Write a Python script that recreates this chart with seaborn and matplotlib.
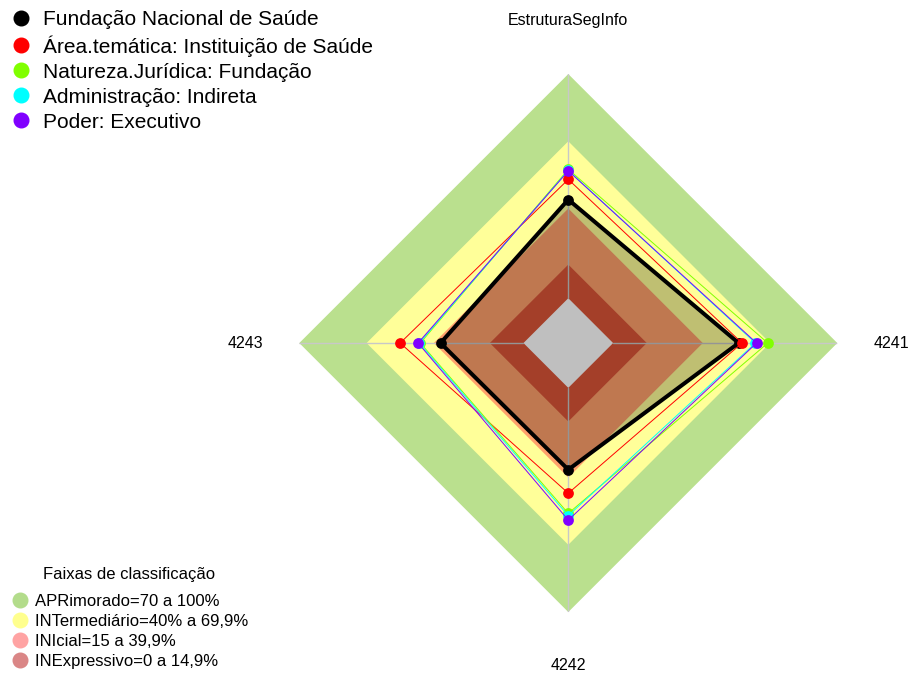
import numpy as np
import pandas as pd
import seaborn as sns
import matplotlib.pyplot as plt
from matplotlib.lines import Line2D

sns.set_theme(style="white")
plt.rcParams['font.family'] = ['Liberation Sans', 'DejaVu Sans']
plt.rcParams['text.color'] = 'black'

# === dados ===
eixos = ["EstruturaSegInfo", "4241", "4242", "4243"]
series = ["Fundação Nacional de Saúde",
          "Área.temática: Instituição de Saúde",
          "Natureza.Jurídica: Fundação",
          "Administração: Indireta",
          "Poder: Executivo"]
cores = ["#000000", "#FF0000", "#80FF00", "#00FFFF", "#8000FF"]

fundacao = [44, 56, 36.5, 37]
area_tematica = [53, 57.5, 47, 55]
natureza = [57.5, 69, 56, 46]
administracao = [57, 63.5, 57, 46.5]
poder = [56.8, 64, 59, 47]
valores = [fundacao, area_tematica, natureza, administracao, poder]

# faixas de classificacao (limite superior de cada faixa)
faixas_lim = [100, 70, 40, 15, 0]
faixas_cor = ["#BAE08E", "#FFFF99", "#FFA16C", "#DC5538", "#FFFFFF"]
faixas_rotulos = ["APRimorado=70 a 100%", "INTermediário=40% a 69,9%",
                  "INIcial=15 a 39,9%", "INExpressivo=0 a 14,9%"]
faixas_cor_legenda = ["#B3DC8B", "#FFFF8E", "#FFA3A3", "#DA8686"]

# === figura ===
fig = plt.figure(figsize=(9.1, 6.75), dpi=100)
ax = fig.add_axes([0.3289, 0.0933, 0.5912, 0.797], projection='polar')
ax.set_theta_offset(np.pi / 2)
ax.set_theta_direction(-1)

theta = np.linspace(0, 2 * np.pi, len(eixos), endpoint=False)
theta_f = np.append(theta, theta[0])

# faixas
for lim, cor in zip(faixas_lim, faixas_cor):
    ax.fill(theta_f, [lim] * len(theta_f), color=cor, lw=0, zorder=1)

# eixos
for t in theta:
    ax.plot([t, t], [0, 100], color="#C8C8C8", lw=1, zorder=2)

# preenchimento da serie principal
ax.fill(theta_f, fundacao + [fundacao[0]], color="black", alpha=0.25, lw=0, zorder=3)

# series
for i, (nome, vals, cor) in enumerate(zip(series, valores, cores)):
    df = pd.DataFrame({"theta": theta_f, "valor": vals + [vals[0]]})
    lw = 2.9 if i == 0 else 0.7
    sns.lineplot(data=df, x="theta", y="valor", sort=False, estimator=None,
                 color=cor, lw=lw, ax=ax, zorder=4 + i)
    sns.scatterplot(data=df.iloc[:-1], x="theta", y="valor", color=cor, s=60,
                    linewidth=0, ax=ax, zorder=4 + i)

ax.set_ylim(-20, 100)
ax.set_axis_off()

# rotulos dos eixos
for t, rotulo in zip(theta, eixos):
    ax.text(t, 124, rotulo, ha="center", va="center", fontsize=11.5,
            color="black", clip_on=False)

# legenda das series
h1 = [Line2D([], [], marker="o", linestyle="", color=c, markersize=10.5) for c in cores]
fig.legend(h1, series, loc="upper left", bbox_to_anchor=(12.5 / 910, 1 - 10 / 675),
           bbox_transform=fig.transFigure, frameon=False, fontsize=15,
           handlelength=0.8, handletextpad=0.65, labelspacing=0.29,
           borderpad=0, borderaxespad=0)

# legenda das faixas
h2 = [Line2D([], [], marker="o", linestyle="", color=c, markersize=10.5)
      for c in faixas_cor_legenda]
fig.legend(h2, faixas_rotulos, loc="lower left",
           bbox_to_anchor=(12.5 / 910, 6 / 675), bbox_transform=fig.transFigure,
           frameon=False, fontsize=12,
           handlelength=0.85, handletextpad=0.5, labelspacing=0.3,
           borderpad=0, borderaxespad=0)
fig.text(129 / 910, 1 - 574 / 675, "Faixas de classificação", ha="center",
         va="center", fontsize=12)

fig.savefig("out.png", dpi=100)
